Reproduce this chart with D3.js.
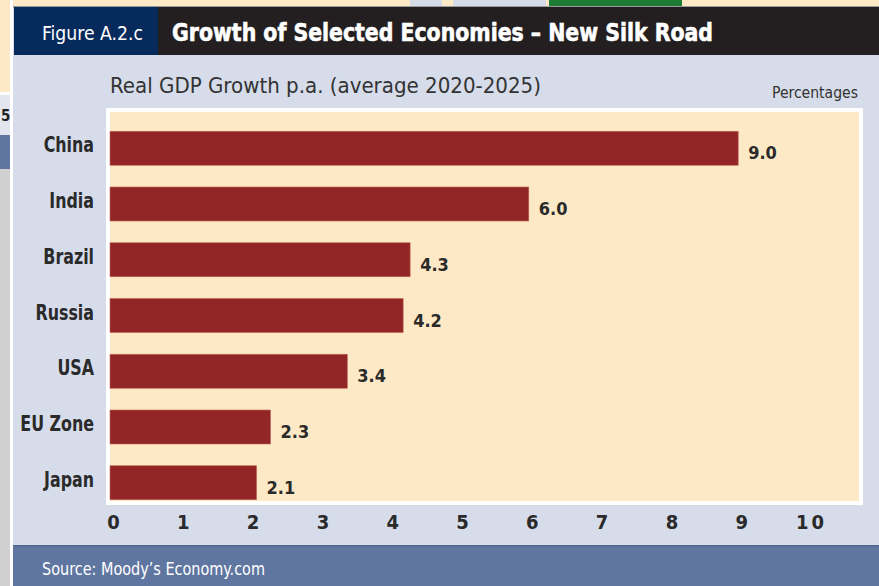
<!DOCTYPE html>
<html>
<head>
<meta charset="utf-8">
<script src="https://cdn.jsdelivr.net/npm/d3@7"></script>
<style>
  html, body { margin: 0; padding: 0; background: #fde9c6; }
  svg { display: block; }
</style>
</head>
<body>
<svg id="chart" width="879" height="586"></svg>
<script>
// ---- data ----
const categories = ["China", "India", "Brazil", "Russia", "USA", "EU Zone", "Japan"];
const values = [9.0, 6.0, 4.3, 4.2, 3.4, 2.3, 2.1];
const tickValues = [0, 1, 2, 3, 4, 5, 6, 7, 8, 9, 10];
const figureLabel = "Figure A.2.c";
const title = "Growth of Selected Economies \u2013 New Silk Road";
const subtitle = "Real GDP Growth p.a. (average 2020-2025)";
const unitLabel = "Percentages";
const sourceText = "Source: Moody\u2019s Economy.com";

const svg = d3.select("#chart");
const W = 879, H = 586;
const FONT = '"Liberation Sans Narrow", "DejaVu Sans Condensed", "Arial Narrow", sans-serif';

// ---- background page fragments (screenshot context) ----
svg.append("rect").attr("x", 0).attr("y", 0).attr("width", W).attr("height", H).attr("fill", "#fde9c6");
svg.append("rect").attr("x", 0).attr("y", 95).attr("width", 11).attr("height", H - 95).attr("fill", "#d0d0d0");
svg.append("rect").attr("x", 0).attr("y", 92).attr("width", 11).attr("height", 3).attr("fill", "#ffffff");
svg.append("rect").attr("x", 0).attr("y", 95).attr("width", 11).attr("height", 40).attr("fill", "#e3e6ee");
svg.append("rect").attr("x", 0).attr("y", 135).attr("width", 11).attr("height", 34).attr("fill", "#5f76a0");
svg.append("text").attr("x", 1).attr("y", 121).attr("font-family", FONT).attr("font-weight", "bold")
  .attr("font-size", 15).attr("fill", "#222").text("5");
svg.append("rect").attr("x", 10).attr("y", 0).attr("width", 3).attr("height", H).attr("fill", "#ffffff");
svg.append("rect").attr("x", 410).attr("y", 0).attr("width", 32).attr("height", 6).attr("fill", "#d5dbe9");
svg.append("rect").attr("x", 453).attr("y", 0).attr("width", 93).attr("height", 6).attr("fill", "#d5dbe9");
svg.append("rect").attr("x", 549).attr("y", 0).attr("width", 133).attr("height", 6).attr("fill", "#1e7d34");

// ---- main panel ----
svg.append("rect").attr("x", 13).attr("y", 6).attr("width", W - 13).attr("height", H - 6).attr("fill", "#d6dcea");
svg.append("rect").attr("x", 13).attr("y", 6).attr("width", W - 13).attr("height", 1.5).attr("fill", "#9a9a9a");
// header
svg.append("rect").attr("x", 14).attr("y", 7).attr("width", 144).attr("height", 48).attr("fill", "#062a5c");
svg.append("rect").attr("x", 158).attr("y", 7).attr("width", W - 158).attr("height", 48).attr("fill", "#231f20");
svg.append("text").attr("x", 42).attr("y", 40).attr("font-family", FONT).attr("font-size", 19)
  .attr("fill", "#ffffff").attr("textLength", 101).attr("lengthAdjust", "spacingAndGlyphs").text(figureLabel);
svg.append("text").attr("x", 172).attr("y", 41).attr("font-family", FONT).attr("font-size", 25)
  .attr("font-weight", "bold").attr("fill", "#ffffff").attr("stroke", "#ffffff").attr("stroke-width", 0.6)
  .attr("textLength", 541).attr("lengthAdjust", "spacingAndGlyphs").text(title);

// subtitle and unit
svg.append("text").attr("x", 110).attr("y", 93).attr("font-family", FONT).attr("font-size", 22)
  .attr("fill", "#333333").attr("textLength", 431).attr("lengthAdjust", "spacingAndGlyphs").text(subtitle);
svg.append("text").attr("x", 858).attr("y", 98).attr("text-anchor", "end").attr("font-family", FONT)
  .attr("font-size", 15).attr("fill", "#333333").attr("textLength", 86).attr("lengthAdjust", "spacingAndGlyphs").text(unitLabel);

// footer
svg.append("rect").attr("x", 13).attr("y", 545).attr("width", W - 13).attr("height", H - 545).attr("fill", "#5f76a0");
svg.append("rect").attr("x", 13).attr("y", 545).attr("width", W - 13).attr("height", 1.5).attr("fill", "#4e6690");
svg.append("text").attr("x", 42).attr("y", 575).attr("font-family", FONT).attr("font-size", 17)
  .attr("fill", "#ffffff").attr("textLength", 223).attr("lengthAdjust", "spacingAndGlyphs").text(sourceText);

// ---- plot area ----
svg.append("rect").attr("x", 106).attr("y", 108).attr("width", 757).attr("height", 397).attr("fill", "#ffffff");
svg.append("rect").attr("x", 110).attr("y", 112).attr("width", 749).attr("height", 389).attr("fill", "#fee9c6");

const x = d3.scaleLinear().domain([0, 10]).range([110, 808]);
const y = d3.scaleBand().domain(categories).range([121, 510]).paddingInner(0.39).paddingOuter(0.184);

const data = categories.map((c, i) => ({ cat: c, val: values[i] }));

svg.append("g").selectAll("rect").data(data).join("rect")
  .attr("x", x(0))
  .attr("y", d => y(d.cat))
  .attr("width", d => x(d.val) - x(0))
  .attr("height", y.bandwidth())
  .attr("fill", "#922626")
  .attr("stroke", "#c0675c")
  .attr("stroke-width", 0.6);

// value labels
svg.append("g").selectAll("text").data(data).join("text")
  .attr("x", d => x(d.val) + 10)
  .attr("y", d => y(d.cat) + y.bandwidth() / 2 + 11)
  .attr("font-family", FONT).attr("font-weight", "bold").attr("font-size", 18)
  .attr("fill", "#2a2a2a")
  .text(d => d3.format(".1f")(d.val));

// category axis
const yAxis = svg.append("g").attr("transform", "translate(94,0)")
  .call(d3.axisLeft(y).tickSize(0).tickPadding(0));
yAxis.select(".domain").remove();
yAxis.selectAll("text").attr("font-family", FONT).attr("font-weight", "bold").attr("font-size", 21)
  .attr("fill", "#2a2a2a").attr("dy", "0.2em").attr("transform", "scale(0.84,1)");

// value axis
const xAxis = svg.append("g").attr("transform", "translate(3,515)")
  .call(d3.axisBottom(x).tickValues(tickValues).tickSize(0).tickPadding(0).tickFormat(d3.format("d")));
xAxis.select(".domain").remove();
xAxis.selectAll("text").attr("font-family", FONT).attr("font-weight", "bold").attr("font-size", 20)
  .attr("fill", "#2a2a2a").attr("dy", "0.72em")
  .attr("letter-spacing", d => d === 10 ? "3px" : null);
</script>
</body>
</html>
